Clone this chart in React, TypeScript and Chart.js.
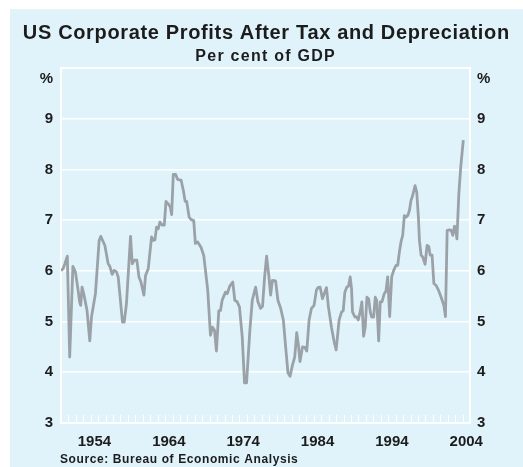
import React, { useEffect, useRef } from "react";
import { Chart, registerables } from "chart.js";

Chart.register(...registerables);

const title = "US Corporate Profits After Tax and Depreciation";
const subtitle = "Per cent of GDP";
const source = "Source: Bureau of Economic Analysis";
const unit = "%";

const xLabelYears = [1954, 1964, 1974, 1984, 1994, 2004];
const yMin = 3;
const yMax = 10;

const years = [
  1950.0, 1950.27, 1950.5, 1950.85, 1951.17, 1951.6, 1951.93, 1952.3, 1952.5, 1952.65,
  1952.83, 1953.1, 1953.5, 1953.87, 1954.1, 1954.63, 1955.13, 1955.35, 1955.9, 1956.34,
  1956.57, 1956.88, 1957.15, 1957.46, 1957.69, 1958.27, 1958.5, 1958.8, 1959.35, 1959.58,
  1959.85, 1960.2, 1960.48, 1960.75, 1961.15, 1961.37, 1961.73, 1962.18, 1962.4, 1962.63,
  1962.85, 1963.08, 1963.3, 1963.62, 1963.89, 1964.12, 1964.43, 1964.7, 1964.88, 1965.1,
  1965.42, 1965.69, 1966.15, 1966.46, 1966.69, 1966.9, 1967.23, 1967.5, 1967.85, 1968.07,
  1968.38, 1968.84, 1969.2, 1969.73, 1970.1, 1970.37, 1970.64, 1970.9, 1971.22, 1971.45,
  1971.67, 1972.12, 1972.35, 1972.7, 1973.1, 1973.37, 1973.69, 1974.0, 1974.37, 1974.68,
  1974.95, 1975.4, 1975.72, 1976.17, 1976.48, 1976.84, 1977.1, 1977.38, 1977.65, 1977.96,
  1978.19, 1978.42, 1978.86, 1979.17, 1979.54, 1979.9, 1980.21, 1980.52, 1980.8, 1981.12,
  1981.43, 1981.7, 1981.93, 1982.14, 1982.47, 1982.78, 1983.05, 1983.36, 1983.68, 1984.03,
  1984.35, 1984.57, 1984.84, 1985.16, 1985.47, 1985.7, 1985.96, 1986.37, 1986.73, 1987.0,
  1987.4, 1987.73, 1987.95, 1988.17, 1988.44, 1988.67, 1988.89, 1989.07, 1989.2, 1989.52,
  1989.79, 1989.97, 1990.23, 1990.46, 1990.69, 1990.91, 1991.14, 1991.37, 1991.59, 1991.77,
  1992.04, 1992.26, 1992.45, 1992.72, 1992.93, 1993.16, 1993.47, 1993.7, 1993.93, 1994.2,
  1994.47, 1994.74, 1995.05, 1995.28, 1995.5, 1995.72, 1995.95, 1996.17, 1996.4, 1996.63,
  1996.85, 1997.07, 1997.3, 1997.61, 1997.84, 1998.06, 1998.2, 1998.42, 1998.65, 1998.96,
  1999.23, 1999.46, 1999.64, 1999.9, 2000.14, 2000.45, 2000.76, 2001.12, 2001.48, 2001.7,
  2001.93, 2002.24, 2002.47, 2002.69, 2002.91, 2003.05, 2003.24, 2003.5, 2003.75, 2004.1,
];

const profits = [
  6.0, 6.04, 6.13, 6.29, 4.3, 6.09, 5.98, 5.62, 5.39, 5.32,
  5.68, 5.52, 5.22, 4.62, 5.09, 5.55, 6.6, 6.68, 6.5, 6.14,
  6.09, 5.93, 6.01, 5.98, 5.88, 4.99, 4.99, 5.35, 6.68, 6.14,
  6.21, 6.21, 5.88, 5.78, 5.52, 5.91, 6.04, 6.67, 6.6, 6.61,
  6.86, 6.83, 6.96, 6.9, 6.9, 7.37, 7.32, 7.26, 7.11, 7.9,
  7.9, 7.8, 7.79, 7.58, 7.37, 7.37, 7.06, 7.01, 6.99, 6.54,
  6.57, 6.46, 6.3, 5.62, 4.73, 4.89, 4.83, 4.42, 5.21, 5.22,
  5.42, 5.58, 5.55, 5.7, 5.78, 5.42, 5.39, 5.29, 4.7, 3.79,
  3.79, 4.83, 5.42, 5.68, 5.39, 5.26, 5.3, 5.88, 6.29, 5.88,
  5.52, 5.81, 5.8, 5.42, 5.26, 5.03, 4.5, 3.99, 3.92, 4.14,
  4.3, 4.78, 4.53, 4.21, 4.5, 4.49, 4.42, 5.03, 5.26, 5.32,
  5.62, 5.67, 5.68, 5.45, 5.58, 5.67, 5.29, 4.89, 4.6, 4.44,
  5.03, 5.19, 5.21, 5.58, 5.68, 5.7, 5.88, 5.65, 5.19, 5.09,
  5.09, 5.03, 5.19, 5.39, 4.71, 4.89, 5.48, 5.45, 5.19, 5.09,
  5.09, 5.48, 5.42, 4.62, 5.39, 5.39, 5.55, 5.6, 5.88, 5.1,
  5.88, 6.01, 6.11, 6.11, 6.37, 6.57, 6.7, 7.09, 7.06, 7.09,
  7.19, 7.39, 7.49, 7.68, 7.55, 7.06, 6.6, 6.31, 6.27, 6.13,
  6.5, 6.48, 6.31, 6.31, 5.75, 5.71, 5.62, 5.48, 5.32, 5.1,
  6.8, 6.81, 6.8, 6.7, 6.88, 6.86, 6.63, 7.52, 8.04, 8.58,
];

const FONT = '"Liberation Sans", Arial, Helvetica, sans-serif';
const BG = "#e0f3fb";
const LINE = "#9aa2a7";
const TEXT = "#1c1c1c";

function spacedText(ctx: any, text: string, x: number, y: number, spacing: number, align: "left" | "center") {
  ctx.letterSpacing = `${spacing}px`;
  let startX = x;
  if (align === "center") {
    const w = ctx.measureText(text).width - spacing;
    startX = x - w / 2;
  }
  ctx.textAlign = "left";
  ctx.fillText(text, startX, y);
  ctx.letterSpacing = "0px";
}

export default function App() {
  const ref = useRef<HTMLCanvasElement | null>(null);

  useEffect(() => {
    document.body.style.margin = "0";
    const canvas = ref.current;
    if (!canvas) return;

    const decor = {
      id: "decor",
      beforeDraw(chart: any) {
        const { ctx, width, height } = chart;
        ctx.save();
        ctx.fillStyle = "#ffffff";
        ctx.fillRect(0, 0, width, height);
        ctx.fillStyle = BG;
        ctx.fillRect(10, 9, width - 10, height - 9);
        ctx.restore();
      },
      beforeDatasetsDraw(chart: any) {
        const { ctx, chartArea } = chart;
        const xs = chart.scales.x;
        ctx.save();
        ctx.strokeStyle = "#ffffff";
        ctx.lineWidth = 1;
        for (let yr = 1950; yr <= 2005; yr++) {
          const px = Math.round(xs.getPixelForValue(yr)) + 0.5;
          ctx.beginPath();
          ctx.moveTo(px, chartArea.bottom);
          ctx.lineTo(px, chartArea.bottom - 8);
          ctx.stroke();
        }
        ctx.lineWidth = 2;
        ctx.strokeRect(chartArea.left, chartArea.top, chartArea.right - chartArea.left, chartArea.bottom - chartArea.top);
        ctx.restore();
      },
      afterDraw(chart: any) {
        const { ctx, chartArea } = chart;
        ctx.save();
        ctx.fillStyle = TEXT;
        ctx.textBaseline = "alphabetic";
        ctx.font = `bold 20px ${FONT}`;
        spacedText(ctx, title, 266, 39, 0.65, "center");
        ctx.font = `bold 16px ${FONT}`;
        spacedText(ctx, subtitle, 265, 61, 1.25, "center");
        ctx.font = `bold 12px ${FONT}`;
        spacedText(ctx, source, 60, 463, 0.6, "left");
        ctx.font = `bold 15px ${FONT}`;
        ctx.textBaseline = "middle";
        ctx.textAlign = "right";
        ctx.fillText(unit, chartArea.left - 8, chartArea.top + 11);
        ctx.textAlign = "left";
        ctx.fillText(unit, chartArea.right + 7, chartArea.top + 11);
        ctx.restore();
      },
    };

    const tickFont = { family: FONT, size: 15, weight: "bold" as const };

    const chart = new Chart(canvas, {
      type: "line",
      data: {
        datasets: [
          {
            data: years.map((x, i) => ({ x, y: profits[i] })),
            borderColor: LINE,
            borderWidth: 2.8,
            pointRadius: 0,
            tension: 0,
            fill: false,
            borderJoinStyle: "round",
          },
        ],
      },
      options: {
        responsive: false,
        animation: false,
        events: [],
        layout: { padding: { top: 68, left: 0, right: 0, bottom: 0 } },
        plugins: { legend: { display: false }, tooltip: { enabled: false }, title: { display: false } },
        scales: {
          x: {
            type: "linear",
            min: 1950,
            max: 2005,
            afterBuildTicks(scale: any) {
              scale.ticks = xLabelYears.map((y) => ({ value: y + 0.5 }));
            },
            afterFit(scale: any) {
              scale.height = 44;
            },
            grid: { display: false, drawTicks: false },
            border: { display: false },
            ticks: {
              autoSkip: false,
              maxRotation: 0,
              padding: 10,
              color: TEXT,
              font: tickFont,
              callback: (v: any) => String(Math.floor(Number(v))),
            },
          },
          y: {
            position: "left",
            min: yMin,
            max: yMax,
            afterFit(scale: any) {
              scale.width = 61;
            },
            grid: { color: "#ffffff", lineWidth: 1.6, drawTicks: false },
            border: { display: false },
            ticks: {
              stepSize: 1,
              padding: 8,
              color: TEXT,
              font: tickFont,
              callback: (v: any) => (Number(v) >= yMax ? "" : String(v)),
            },
          },
          y2: {
            position: "right",
            min: yMin,
            max: yMax,
            afterFit(scale: any) {
              scale.width = 53;
            },
            grid: { display: false, drawTicks: false },
            border: { display: false },
            ticks: {
              stepSize: 1,
              padding: 7,
              color: TEXT,
              font: tickFont,
              callback: (v: any) => (Number(v) >= yMax ? "" : String(v)),
            },
          },
        },
      },
      plugins: [decor],
    } as any);

    return () => chart.destroy();
  }, []);

  return <canvas ref={ref} width={523} height={467} style={{ display: "block" }} />;
}
